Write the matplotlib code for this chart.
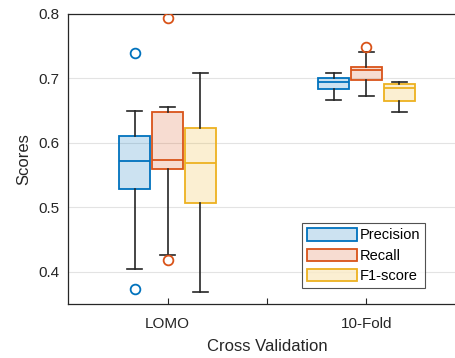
import matplotlib
matplotlib.use("Agg")
import matplotlib.pyplot as plt
from matplotlib.patches import Patch

plt.rcParams['font.family'] = ['Liberation Sans', 'DejaVu Sans']

groups = ['LOMO', '10-Fold']
metrics = ['Precision', 'Recall', 'F1-score']
colors = ['#0072BD', '#D95319', '#EDB120']

# stats per metric: [LOMO, 10-Fold]
whislo = {'Precision': [0.405, 0.667], 'Recall': [0.426, 0.673], 'F1-score': [0.369, 0.648]}
q1 = {'Precision': [0.528, 0.683], 'Recall': [0.559, 0.698], 'F1-score': [0.506, 0.665]}
med = {'Precision': [0.572, 0.695], 'Recall': [0.574, 0.713], 'F1-score': [0.569, 0.685]}
q3 = {'Precision': [0.611, 0.700], 'Recall': [0.648, 0.718], 'F1-score': [0.623, 0.692]}
whishi = {'Precision': [0.649, 0.708], 'Recall': [0.656, 0.741], 'F1-score': [0.708, 0.694]}
fliers = {'Precision': [[0.739, 0.373], []], 'Recall': [[0.794, 0.418], [0.749]], 'F1-score': [[], []]}

group_pos = [1, 3]
offsets = [-0.33, 0.0, 0.33]

fig = plt.figure(figsize=(4.55, 3.58), dpi=100)
ax = fig.add_axes([68/455, 54/358, 398/455, 290/358])

for mi, m in enumerate(metrics):
    c = colors[mi]
    stats = []
    for gi in range(len(groups)):
        stats.append(dict(whislo=whislo[m][gi], q1=q1[m][gi], med=med[m][gi],
                          q3=q3[m][gi], whishi=whishi[m][gi], fliers=fliers[m][gi]))
    pos = [p + offsets[mi] for p in group_pos]
    ax.bxp(stats, positions=pos, widths=0.31, patch_artist=True, showfliers=True,
           boxprops=dict(facecolor=matplotlib.colors.to_rgba(c, 0.2), edgecolor=c, linewidth=1.3),
           medianprops=dict(color=c, linewidth=1.3),
           whiskerprops=dict(color='#262626', linewidth=1.2),
           capprops=dict(color='#262626', linewidth=1.2),
           capwidths=0.155,
           flierprops=dict(marker='o', markerfacecolor='none', markeredgecolor=c,
                           markersize=7, markeredgewidth=1.3),
           zorder=3)

ax.set_xlim(0, 4)
ax.set_ylim(0.35, 0.8)
ax.set_xticks([1, 2, 3])
ax.set_xticklabels(['LOMO', '', '10-Fold'])
ax.set_yticks([0.4, 0.5, 0.6, 0.7, 0.8])
ax.set_yticklabels(['0.4', '0.5', '0.6', '0.7', '0.8'])
ax.yaxis.grid(True, color='#e3e3e3', linewidth=0.8)
ax.set_axisbelow(True)
ax.tick_params(axis='both', direction='in', labelsize=11, colors='#262626', length=4, width=0.8)
ax.tick_params(axis='x', pad=9)
ax.tick_params(axis='y', length=0, pad=6)
ax.spines['right'].set_visible(False)
for s in ax.spines.values():
    s.set_color('#262626')
    s.set_linewidth(0.9)
ax.set_xlabel('Cross Validation', fontsize=12, color='#262626', labelpad=6)
ax.set_ylabel('Scores', fontsize=12, color='#262626', labelpad=5)

handles = [Patch(facecolor=matplotlib.colors.to_rgba(c, 0.2), edgecolor=c, linewidth=1.3, label=m)
           for m, c in zip(metrics, colors)]
leg = ax.legend(handles=handles, loc='lower left', bbox_to_anchor=(234/398, 16/290),
                fontsize=10.5, frameon=True, fancybox=False, handlelength=3.4, handleheight=0.9,
                handletextpad=0.2, borderpad=0.35, labelspacing=0.42, borderaxespad=0)
leg.get_frame().set_edgecolor('#262626')
leg.get_frame().set_linewidth(0.8)

fig.savefig('out.png', dpi=100)
